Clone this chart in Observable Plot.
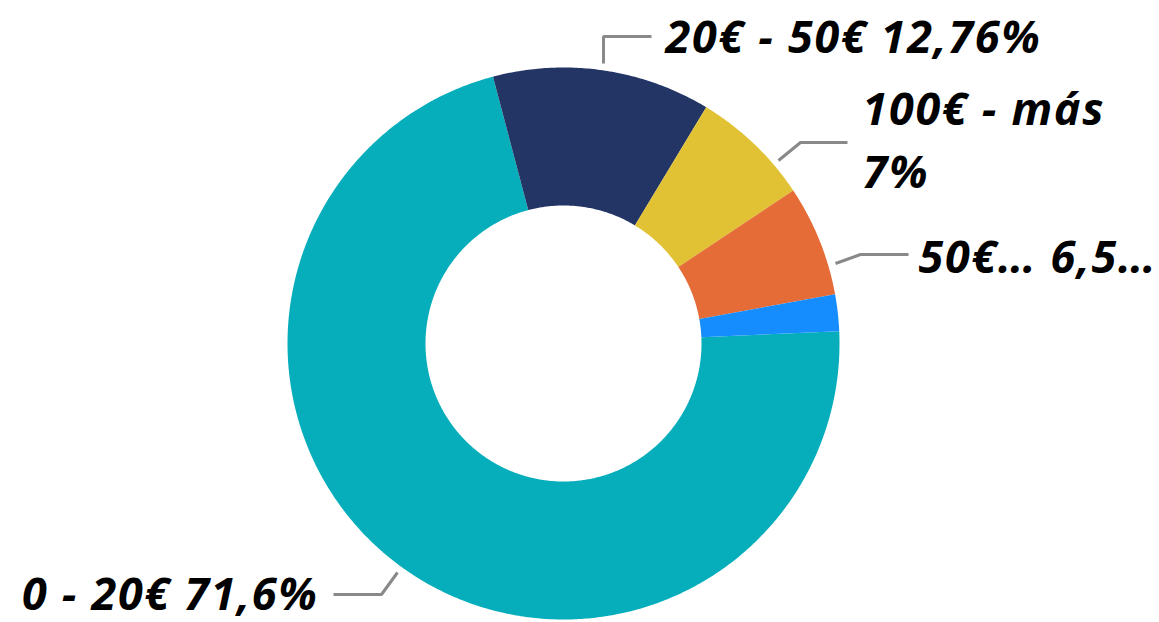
<!DOCTYPE html>
<html><head><meta charset="utf-8">
<script src="https://cdn.jsdelivr.net/npm/d3@7"></script>
<script src="https://cdn.jsdelivr.net/npm/@observablehq/plot@0.6"></script>
<style>html,body{margin:0;padding:0;background:#fff;overflow:hidden}#chart svg{display:block}</style>
</head><body><div id="chart"></div>
<script>
// ---- data (clockwise order, starting with the big slice) ----
const categories = ["0 - 20€", "20€ - 50€", "100€ - más", "50€ - 100€", "Otros"];
const shares = [71.6, 12.76, 7, 6.5, 2.14];
const labelTexts = ["0 - 20€ 71,6%", "20€ - 50€ 12,76%", "100€ - más\n7%", "50€… 6,5…", ""];
const colors = ["#06AEBC", "#233565", "#E0C234", "#E56C37", "#168DFF"];

// ---- layout ----
const W = 1159, H = 622, CX = 563, CY = 343, R = 276, HOLE = 0.5;
const START_DEG = 87.44;
const FONT = "'Open Sans', 'Liberation Sans', Arial, sans-serif";
// leader polylines and label anchors, in page pixels
const leaderLayout = [
  [[397, 572], [381, 594], [333, 594]],
  [[603, 63], [603, 36], [651, 36]],
  [[778, 160], [800, 142], [847, 142]],
  [[835, 263], [860, 254], [908, 254]],
  null
];
const labelLayout = [
  {px: 318, py: 609, anchor: "end"},
  {px: 665, py: 52, anchor: "start"},
  {px: 862, py: 187, anchor: "start"},
  {px: 918, py: 272, anchor: "start"},
  null
];
const toX = px => (px - CX) / R;
const toY = py => (CY - py) / R;

// ---- build slice polygons in data space ----
const slices = categories.map((c, i) => ({category: c, share: shares[i]}));
const a0 = START_DEG * Math.PI / 180;
const arcs = d3.pie().sort(null).value(d => d.share).startAngle(a0).endAngle(a0 + 2 * Math.PI)(slices);
const polyPts = [];
for (const a of arcs) {
  const n = Math.max(2, Math.ceil((a.endAngle - a.startAngle) / (Math.PI / 360)));
  for (let k = 0; k <= n; k++) {
    const t = a.startAngle + (a.endAngle - a.startAngle) * k / n;
    polyPts.push({category: a.data.category, x: Math.sin(t), y: Math.cos(t)});
  }
  for (let k = n; k >= 0; k--) {
    const t = a.startAngle + (a.endAngle - a.startAngle) * k / n;
    polyPts.push({category: a.data.category, x: HOLE * Math.sin(t), y: HOLE * Math.cos(t)});
  }
}

const leaderPts = [];
leaderLayout.forEach((pts, i) => {
  if (!pts) return;
  pts.forEach(([px, py]) => leaderPts.push({category: categories[i], x: toX(px), y: toY(py)}));
});
const labels = [];
labelLayout.forEach((l, i) => {
  if (!l || !labelTexts[i]) return;
  labels.push({text: labelTexts[i], x: toX(l.px), y: toY(l.py), anchor: l.anchor});
});

const textOpts = {
  x: "x", y: "y", text: "text", lineAnchor: "bottom",
  fontSize: 45, fontWeight: "bold", fontStyle: "italic", fontFamily: FONT,
  fill: "#000", lineHeight: 1.38
};

const chart = Plot.plot({
  width: W, height: H,
  marginTop: 0, marginRight: 0, marginBottom: 0, marginLeft: 0,
  style: {fontFamily: FONT, background: "#fff", letterSpacing: "1.7px"},
  x: {domain: [toX(0), toX(W)], axis: null},
  y: {domain: [toY(H), toY(0)], axis: null},
  color: {domain: categories, range: colors},
  marks: [
    Plot.line(polyPts, {x: "x", y: "y", z: "category", fill: "category", stroke: "none", curve: "linear-closed"}),
    Plot.line(leaderPts, {x: "x", y: "y", z: "category", stroke: "#898989", strokeWidth: 3, strokeLinejoin: "miter", strokeLinecap: "butt"}),
    Plot.text(labels.filter(d => d.anchor === "start"), {...textOpts, textAnchor: "start"}),
    Plot.text(labels.filter(d => d.anchor === "end"), {...textOpts, textAnchor: "end"})
  ]
});
document.getElementById("chart").appendChild(chart);
</script>
</body></html>
